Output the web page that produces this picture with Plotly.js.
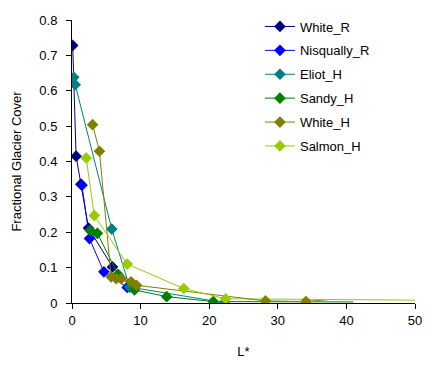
<!DOCTYPE html>
<html>
<head>
<meta charset="utf-8">
<script src="https://cdn.plot.ly/plotly-3.0.1.min.js"></script>
<style>html,body{margin:0;padding:0;background:#fff;}#chart{width:432px;height:376px;}</style>
</head>
<body>
<div id="chart"></div>
<script>
const seriesNames = ["White_R", "Nisqually_R", "Eliot_H", "Sandy_H", "White_H", "Salmon_H"];
const seriesColors = ["#000080", "#0000FF", "#008080", "#008000", "#808000", "#99CC00"];

const whiteR_L = [0.1, 0.6, 1.3, 2.4, 5.9, 8.7];
const whiteR_F = [0.728, 0.415, 0.336, 0.212, 0.102, 0.05];

const nisqually_L = [1.45, 2.55, 4.65, 8.05];
const nisqually_F = [0.333, 0.182, 0.088, 0.044];

const eliot_L = [0.26, 0.47, 5.8, 8.4, 22.2];
const eliot_F = [0.638, 0.617, 0.209, 0.045, 0.001];

const sandy_L = [2.65, 3.7, 6.7, 9.1, 13.8, 20.6, 41];
const sandy_F = [0.205, 0.197, 0.081, 0.037, 0.018, 0.004, 0.003];

const whiteH_L = [3.0, 4.0, 5.7, 6.45, 7.2, 8.6, 9.4, 28.2, 34.1, 37.6];
const whiteH_F = [0.504, 0.429, 0.074, 0.069, 0.069, 0.06, 0.05, 0.006, 0.004, 0.01];

const salmon_L = [2.07, 3.25, 8.05, 16.3, 22.4, 58];
const salmon_F = [0.41, 0.247, 0.11, 0.041, 0.012, 0.007];

// index of last point drawn with a visible marker (later points are line-only)
const lastMarked = [5, 3, 4, 5, 8, 4];

const xs = [whiteR_L, nisqually_L, eliot_L, sandy_L, whiteH_L, salmon_L];
const ys = [whiteR_F, nisqually_F, eliot_F, sandy_F, whiteH_F, salmon_F];

const traces = [];
// line-only tails first (drawn underneath)
seriesNames.forEach((n, i) => {
  const k = lastMarked[i];
  if (k < xs[i].length - 1) {
    traces.push({
      type: 'scatter', mode: 'lines', name: n, showlegend: false, legendgroup: 'g' + i,
      x: xs[i].slice(k), y: ys[i].slice(k),
      line: {color: seriesColors[i], width: 1}, hoverinfo: 'skip'
    });
  }
});
seriesNames.forEach((n, i) => {
  const k = lastMarked[i];
  traces.push({
    type: 'scatter', mode: 'lines+markers', name: n, legendgroup: 'g' + i,
    x: xs[i].slice(0, k + 1), y: ys[i].slice(0, k + 1),
    line: {color: seriesColors[i], width: 1},
    marker: {symbol: 'diamond', size: 9, color: seriesColors[i]},
    cliponaxis: true
  });
});

const layout = {
  width: 432, height: 376,
  margin: {l: 72, r: 17, t: 18, b: 73},
  paper_bgcolor: '#fff', plot_bgcolor: '#fff',
  font: {family: 'Liberation Sans, Arial, sans-serif', size: 13, color: '#000'},
  showlegend: true,
  legend: {x: 0.548, y: 1.03, xanchor: 'left', yanchor: 'top', bgcolor: 'rgba(0,0,0,0)',
           font: {size: 13}, tracegroupgap: 4, traceorder: 'grouped'},
  xaxis: {range: [0, 50], dtick: 10, showgrid: false, zeroline: false,
          showline: true, linecolor: '#000', linewidth: 1, ticks: 'outside', ticklen: 5, tickcolor: '#000',
          title: {text: 'L*', font: {size: 13}, standoff: 20}},
  yaxis: {range: [0, 0.8], dtick: 0.1, showgrid: false, zeroline: false,
          showline: true, linecolor: '#000', linewidth: 1, ticks: 'outside', ticklen: 5, tickcolor: '#000',
          ticklabelstandoff: 6,
          title: {text: 'Fractional Glacier Cover', font: {size: 13}, standoff: 14}}
};

Plotly.newPlot('chart', traces, layout, {displayModeBar: false, staticPlot: true});
</script>
</body>
</html>
